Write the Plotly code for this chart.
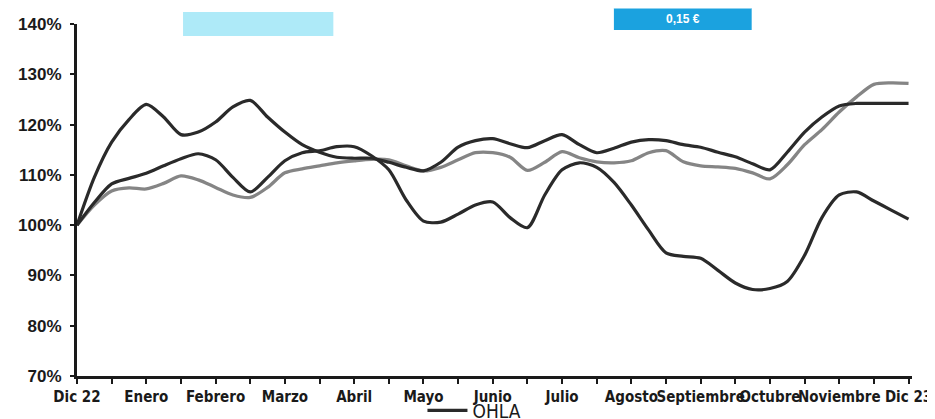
import plotly.graph_objects as go

# Time axis: quarter-month steps from Dic 22 (0) to Dic 23 (12)
steps = [i / 4 for i in range(49)]

month_labels = ["Dic 22", "Enero", "Febrero", "Marzo", "Abril", "Mayo", "Junio",
                "Julio", "Agosto", "Septiembre", "Octubre", "Noviembre", "Dic 23"]
month_pos = list(range(13))

serie_alta = [100, 109.5, 116.5, 121, 124, 121.5, 118, 118.5, 120.5, 123.5, 124.8, 121.5,
              118.5, 116, 114.5, 113.5, 113.3, 113.3, 112.5, 111.5, 110.8, 112.5, 115.5,
              116.8, 117.2, 116.2, 115.4, 116.8, 118, 116, 114.4, 115.3, 116.5, 117, 116.8,
              116, 115.5, 114.5, 113.6, 112.2, 111, 114.5, 118.5, 121.5, 123.7, 124.2, 124.2,
              124.2, 124.2]

ohla = [100, 104.5, 108.2, 109.3, 110.3, 111.8, 113.2, 114.2, 113, 109.5, 106.6, 109.5,
        112.8, 114.4, 114.8, 115.6, 115.6, 113.8, 111, 105, 100.8, 100.6, 102.2, 104, 104.6,
        101.5, 99.5, 106, 111, 112.4, 111.5, 108.5, 104, 99, 94.5, 93.8, 93.4, 91, 88.5,
        87.2, 87.4, 88.8, 94, 101.5, 106, 106.6, 104.8, 103, 101.2]

serie_gris = [100, 104, 106.8, 107.4, 107.2, 108.3, 109.8, 109, 107.5, 106, 105.5, 107.5,
              110.4, 111.2, 111.8, 112.4, 112.8, 113.1, 113, 111.8, 110.8, 111.5, 113, 114.4,
              114.4, 113.5, 110.9, 112.5, 114.6, 113.4, 112.6, 112.4, 112.8, 114.4, 114.8,
              112.6, 111.8, 111.6, 111.3, 110.4, 109.2, 112, 116, 119, 122.5, 125.5, 128,
              128.3, 128.2]

y_ticks = [70, 80, 90, 100, 110, 120, 130, 140]
y_labels = [f"{v}%" for v in y_ticks]

narrow = "Liberation Sans Narrow, DejaVu Sans Condensed, Liberation Sans, Arial"

fig = go.Figure()
fig.add_trace(go.Scatter(x=steps, y=serie_gris, mode="lines", name="Serie gris",
                         line=dict(color="#858585", width=3.3, shape="spline", smoothing=0.8),
                         showlegend=False))
fig.add_trace(go.Scatter(x=steps, y=serie_alta, mode="lines", name="Serie",
                         line=dict(color="#2a2a2a", width=3.2, shape="spline", smoothing=0.8),
                         showlegend=False))
fig.add_trace(go.Scatter(x=steps, y=ohla, mode="lines", name="OHLA",
                         line=dict(color="#2a2a2a", width=3.2, shape="spline", smoothing=0.8),
                         showlegend=True))

# page body has an 8px default margin, so the figure is sized to fit the window
fig.update_layout(
    width=927, height=411,
    margin=dict(l=69, r=23, t=16, b=43, autoexpand=False),
    paper_bgcolor="white", plot_bgcolor="white",
    showlegend=True,
    legend=dict(orientation="h", x=0.476, xanchor="center", y=-0.044, yanchor="top",
                font=dict(family=narrow, size=19, color="#1a1a1a"),
                bgcolor="rgba(0,0,0,0)", itemwidth=40, tracegroupgap=0),
    xaxis=dict(range=[0, 12.05], tickmode="array", tickvals=month_pos, ticktext=month_labels,
               automargin=False, tickangle=0,
               showgrid=False, zeroline=False, showline=True, linecolor="#1a1a1a",
               linewidth=3, ticks="outside", ticklen=5, tickwidth=2, tickcolor="#1a1a1a",
               tickfont=dict(family=narrow, size=15, color="#1a1a1a", weight="bold"),
               minor=dict(ticks="outside", dtick=0.5, ticklen=5, tickwidth=2,
                          tickcolor="#1a1a1a", showgrid=False)),
    yaxis=dict(range=[70, 140], tickmode="array", tickvals=y_ticks, ticktext=y_labels,
               automargin=False,
               showgrid=False, zeroline=False, showline=True, linecolor="#1a1a1a",
               linewidth=3, ticks="outside", ticklen=4, tickwidth=2, tickcolor="#1a1a1a",
               tickfont=dict(family="Liberation Sans, Arial", size=17, color="#1a1a1a",
                             weight="bold"),
               ticklabelstandoff=5),
    shapes=[
        dict(type="rect", xref="paper", yref="paper", x0=0.127, x1=0.307, y0=0.966, y1=1.034,
             fillcolor="#aeeaf8", line=dict(width=0), layer="below"),
        dict(type="rect", xref="paper", yref="paper", x0=0.643, x1=0.808, y0=0.983, y1=1.07,
             fillcolor="#1ba2df", line=dict(width=0)),
        dict(type="line", xref="paper", yref="paper", x0=0.643, x1=0.808, y0=1.046, y1=1.046,
             line=dict(color="white", width=1.5)),
    ],
    annotations=[
        dict(text="0,15 €", xref="paper", yref="paper", x=0.726, y=1.014, showarrow=False,
             xanchor="center", yanchor="middle",
             font=dict(family="Liberation Sans", size=12, color="white", weight="bold"))
    ],
)

fig.write_html("out.html")
